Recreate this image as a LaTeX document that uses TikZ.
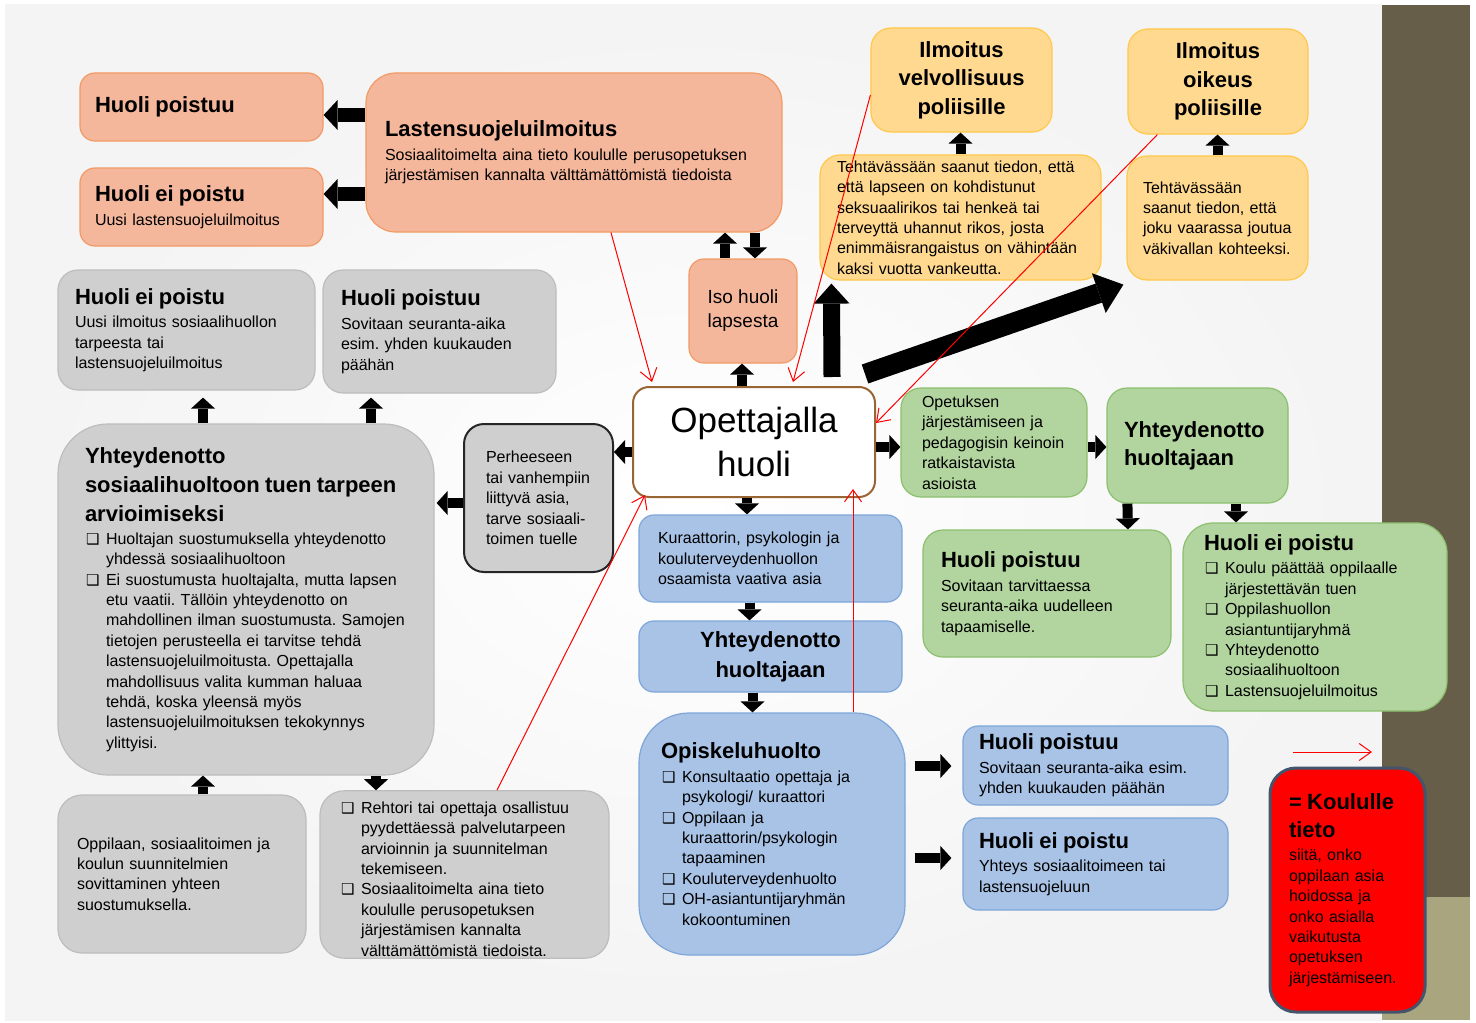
\documentclass[tikz,border=0pt]{standalone}
\usepackage{fontspec}
\setmainfont{Liberation Sans}
\newfontfamily\merkkifont{DejaVu Sans}
\usetikzlibrary{arrows.meta}
\frenchspacing
\hyphenpenalty=10000

\definecolor{oranssi}{HTML}{F5B79C}
\definecolor{oranssireuna}{HTML}{F19A65}
\definecolor{keltainen}{HTML}{FFD98F}
\definecolor{keltareuna}{HTML}{FFC84A}
\definecolor{harmaa}{HTML}{CFCFCF}
\definecolor{harmaareuna}{HTML}{BDBDBD}
\definecolor{sininen}{HTML}{A8C3E6}
\definecolor{sinireuna}{HTML}{7EA6D8}
\definecolor{vihrea}{HTML}{B2D49F}
\definecolor{vihreareuna}{HTML}{8CC06E}
\definecolor{ruskea}{HTML}{9A6535}
\definecolor{tumma}{HTML}{675E49}
\definecolor{khaki}{HTML}{A9A57F}
\definecolor{tummasini}{HTML}{44546A}

\newcommand{\teksti}{\fontsize{8}{10.2}\selectfont}
\newcommand{\isofont}{\fontsize{11}{14}\selectfont\bfseries}
\newcommand{\otsikko}[1]{{\isofont #1\par}\vspace{1.6pt}}
\newcommand{\merkki}{{\merkkifont\fontsize{7.5}{7.5}\selectfont ❑}}
\newcommand{\kohta}[1]{\par\noindent\hangindent=10.5pt\hangafter=1\makebox[10.5pt][l]{\hspace{0.5pt}\merkki}#1\par}

\begin{document}
\begin{tikzpicture}[x=0.5pt,y=-0.5pt,
  laatikko/.style={draw, rounded corners=7.5pt, inner xsep=0pt, inner ysep=1pt, align=left, font=\teksti, line width=0.6pt},
  oranssilaatikko/.style={laatikko, fill=oranssi, draw=oranssireuna},
  keltalaatikko/.style={laatikko, fill=keltainen, draw=keltareuna},
  harmaalaatikko/.style={laatikko, fill=harmaa, draw=harmaareuna},
  sinilaatikko/.style={laatikko, fill=sininen, draw=sinireuna},
  vihrealaatikko/.style={laatikko, fill=vihrea, draw=vihreareuna},
  nuoli/.style={-{Triangle[width=12pt,length=5.5pt,line width=0pt]}, line width=5pt},
  paksu/.style={-{Triangle[width=15pt,length=7pt,line width=0pt]}, line width=7pt},
  isonuoli/.style={-{Triangle[width=18pt,length=10pt,line width=0pt]}, line width=8.5pt},
  vinonuoli/.style={-{Triangle[width=21pt,length=13pt,line width=0pt]}, line width=10pt},
  punainen/.style={red, line width=0.5pt, -{Straight Barb[length=6pt,width=8.5pt]}}]

  \useasboundingbox (0,0) rectangle (1476,1022);
  % tausta
  \fill[white] (0,0) rectangle (1476,1022);
  \shade[inner color=white, outer color=gray!9] (5,5) rectangle (1382,1020);
  \fill[tumma] (1382,5) rectangle (1470,897);
  \fill[khaki] (1382,897) rectangle (1470,1020);

  % lastensuojelu (oranssi)
  \node[oranssilaatikko, minimum width=121.5pt, text width=106.5pt, minimum height=34pt] (HP1) at (201.5,107) {\isofont Huoli poistuu};
  \node[oranssilaatikko, minimum width=121.5pt, text width=106.5pt, minimum height=39pt] (HEP1) at (201.5,207) {\otsikko{Huoli ei poistu}Uusi lastensuojeluilmoitus};
  \node[oranssilaatikko, rounded corners=15pt, minimum width=208pt, text width=189pt, minimum height=79.5pt] (LSI) at (574,152.5)
    {\otsikko{Lastensuojeluilmoitus}Sosiaalitoimelta aina tieto koululle perusopetuksen\\järjestämisen kannalta välttämättömistä tiedoista};
  \node[oranssilaatikko, align=center, font=\fontsize{9.5}{12}\selectfont, minimum width=54pt, minimum height=52pt] (Iso) at (743,311) {Iso huoli\\lapsesta};

  % poliisi (keltainen)
  \node[keltalaatikko, rounded corners=10pt, align=center, font=\fontsize{11}{14.3}\selectfont\bfseries, minimum width=90.5pt, minimum height=52pt] (IV) at (961.5,80) {Ilmoitus\\velvollisuus\\poliisille};
  \node[keltalaatikko, rounded corners=10pt, align=center, font=\fontsize{11}{14.3}\selectfont\bfseries, minimum width=90pt, minimum height=52.5pt] (IO) at (1218,81.5) {Ilmoitus\\oikeus\\poliisille};
  \node[keltalaatikko, rounded corners=10pt, minimum width=140.5pt, text width=123.5pt, minimum height=62.5pt] (TV) at (960.5,217.5)
    {Tehtävässään saanut tiedon, että\\että lapseen on kohdistunut\\seksuaalirikos tai henkeä tai\\terveyttä uhannut rikos, josta\\enimmäisrangaistus on vähintään\\kaksi vuotta vankeutta.};
  \node[keltalaatikko, rounded corners=10pt, minimum width=90.5pt, text width=74.5pt, minimum height=62pt] (TO) at (1217.5,218)
    {Tehtävässään\\saanut tiedon, että\\joku vaarassa joutua\\väkivallan kohteeksi.};

  % opettaja
  \node[draw=ruskea, line width=1pt, fill=white, rounded corners=8pt, align=center, font=\fontsize{17.5}{22}\selectfont, minimum width=121pt, minimum height=55pt] (Opett) at (754,442) {Opettajalla\\huoli};

  % opetus (vihreä)
  \node[vihrealaatikko, rounded corners=10pt, minimum width=93pt, text width=72pt, minimum height=54.5pt] (OPE) at (994,442.5)
    {Opetuksen\\järjestämiseen ja\\pedagogisin keinoin\\ratkaistavista\\asioista};
  \node[vihrealaatikko, rounded corners=10pt, font=\isofont, minimum width=90.5pt, text width=73.5pt, minimum height=57.5pt] (GYH) at (1197.5,445.5) {Yhteydenotto\\huoltajaan};
  \node[vihrealaatikko, rounded corners=10pt, minimum width=124pt, text width=106pt, minimum height=63.5pt] (GHP2) at (1047,593.5)
    {\otsikko{Huoli poistuu}Sovitaan tarvittaessa\\seuranta-aika uudelleen\\tapaamiselle.};
  \node[vihrealaatikko, rounded corners=15pt, minimum width=132pt, text width=111pt, minimum height=94pt] (GHEP2) at (1315,617)
    {\otsikko{Huoli ei poistu}\kohta{Koulu päättää oppilaalle\newline järjestettävän tuen}\kohta{Oppilashuollon\newline asiantuntijaryhmä}\kohta{Yhteydenotto\newline sosiaalihuoltoon}\kohta{Lastensuojeluilmoitus}};

  % opiskeluhuolto (sininen)
  \node[sinilaatikko, minimum width=131.5pt, text width=112.5pt, minimum height=43.5pt] (KUR) at (770.5,558.5)
    {Kuraattorin, psykologin ja\\kouluterveydenhuollon\\osaamista vaativa asia};
  \node[sinilaatikko, align=center, font=\fontsize{11}{15}\selectfont\bfseries, minimum width=131.5pt, minimum height=35.5pt] (YH) at (770.5,656.5) {Yhteydenotto\\huoltajaan};
  \node[sinilaatikko, rounded corners=25pt, minimum width=133pt, text width=111pt, minimum height=121pt] (OPI) at (772,834)
    {\otsikko{Opiskeluhuolto}\kohta{Konsultaatio opettaja ja\newline psykologi/ kuraattori}\kohta{Oppilaan ja\newline kuraattorin/psykologin\newline tapaaminen}\kohta{Kouluterveydenhuolto}\kohta{OH-asiantuntijaryhmän\newline kokoontuminen}};
  \node[sinilaatikko, minimum width=132.5pt, text width=116.5pt, minimum height=39.5pt] (BHP) at (1095.5,765.5)
    {\otsikko{Huoli poistuu}Sovitaan seuranta-aika esim.\\yhden kuukauden päähän};
  \node[sinilaatikko, minimum width=132.5pt, text width=116.5pt, minimum height=46pt] (BHEP) at (1095.5,864)
    {\otsikko{Huoli ei poistu}Yhteys sosiaalitoimeen tai\\lastensuojeluun};

  % selite
  \node[laatikko, fill=red, draw=tummasini, line width=1.5pt, rounded corners=13pt, minimum width=77.5pt, text width=58.5pt, minimum height=122pt] (KT) at (1347.5,890)
    {\otsikko{= Koululle\\tieto}siitä, onko\\oppilaan asia\\hoidossa ja\\onko asialla\\vaikutusta\\opetuksen\\järjestämiseen.};

  % sosiaalihuolto (harmaa)
  \node[harmaalaatikko, rounded corners=10pt, minimum width=128.5pt, text width=111.5pt, minimum height=60pt] (GHEP) at (186.5,330)
    {\otsikko{Huoli ei poistu}Uusi ilmoitus sosiaalihuollon\\tarpeesta tai\\lastensuojeluilmoitus};
  \node[harmaalaatikko, rounded corners=10pt, minimum width=116.5pt, text width=98.5pt, minimum height=61.5pt] (GHP) at (439.5,331.5)
    {\otsikko{Huoli poistuu}Sovitaan seuranta-aika\\esim. yhden kuukauden\\päähän};
  \node[harmaalaatikko, rounded corners=25pt, minimum width=188pt, text width=166pt, minimum height=175.5pt] (YS) at (246,599.5)
    {\leftskip=2.5pt{\fontsize{11}{14.5}\selectfont\bfseries Yhteydenotto\\sosiaalihuoltoon tuen tarpeen\\arvioimiseksi\par}\vspace{1.2pt}%
     \kohta{Huoltajan suostumuksella yhteydenotto\newline yhdessä sosiaalihuoltoon}%
     \kohta{Ei suostumusta huoltajalta, mutta lapsen\newline etu vaatii. Tällöin yhteydenotto on\newline mahdollinen ilman suostumusta. Samojen\newline tietojen perusteella ei tarvitse tehdä\newline lastensuojeluilmoitusta. Opettajalla\newline mahdollisuus valita kumman haluaa\newline tehdä, koska yleensä myös\newline lastensuojeluilmoituksen tekokynnys\newline ylittyisi.}};
  \node[harmaalaatikko, draw=black!85, line width=1pt, rounded corners=10pt, minimum width=74.5pt, text width=52.5pt, minimum height=74pt] (PER) at (538.5,498)
    {Perheeseen\\tai vanhempiin\\liittyvä asia,\\tarve sosiaali-\\toimen tuelle};
  \node[harmaalaatikko, rounded corners=12pt, minimum width=124pt, text width=105pt, minimum height=79pt] (OPP) at (182,874)
    {Oppilaan, sosiaalitoimen ja\\koulun suunnitelmien\\sovittaminen yhteen\\suostumuksella.};
  \node[harmaalaatikko, rounded corners=12pt, minimum width=144.5pt, text width=124.5pt, minimum height=81.5pt] (REH) at (464.5,874.5)
    {\kohta{Rehtori tai opettaja osallistuu\newline pyydettäessä palvelutarpeen\newline arvioinnin ja suunnitelman\newline tekemiseen.}\kohta{Sosiaalitoimelta aina tieto\newline koululle perusopetuksen\newline järjestämisen kannalta\newline välttämättömistä tiedoista.}};

  % mustat nuolet
  \draw[paksu] ([shift={(0,-37.5)}]LSI.west) -- ([shift={(0,8)}]HP1.east);
  \draw[paksu] ([shift={(0,41.5)}]LSI.west) -- ([shift={(0,-13)}]HEP1.east);
  \draw[nuoli] ([shift={(-18,0)}]Iso.north) -- ([shift={(151,0)}]LSI.south);
  \draw[nuoli] ([shift={(181,0)}]LSI.south) -- ([shift={(12,0)}]Iso.north);
  \draw[nuoli] ([shift={(-12,0)}]Opett.north) -- ([shift={(-1,0)}]Iso.south);
  \draw[isonuoli] ([shift={(78,-9)}]Opett.north) -- ([shift={(12,3)}]TV.south west);
  \draw[vinonuoli] ([shift={(111,-12)}]Opett.north) -- ([shift={(-3,4)}]TO.south west);
  \draw[nuoli] (TV.north) -- (TV.north |- IV.south);
  \draw[nuoli] (TO.north) -- (TO.north |- IO.south);
  \draw[nuoli] ([shift={(0,10)}]Opett.west) -- ([shift={(0,-46)}]PER.east);
  \draw[nuoli] ([shift={(0,5)}]Opett.east) -- ([shift={(0,4.5)}]OPE.west);
  \draw[nuoli] ([shift={(-7,0)}]Opett.south) -- ([shift={(-23.5,0)}]KUR.north);
  \draw[nuoli] ([shift={(-21,0)}]KUR.south) -- ([shift={(-21,0)}]YH.north);
  \draw[nuoli] ([shift={(-18,0)}]YH.south) -- ([shift={(-19.5,0)}]OPI.north);
  \draw[nuoli] ([shift={(9,-68)}]OPI.east) -- ([shift={(-11,0.5)}]BHP.west);
  \draw[nuoli] ([shift={(9,24)}]OPI.east) -- ([shift={(-11,-6)}]BHEP.west);
  \draw[nuoli] ([shift={(0,4.5)}]OPE.east) -- ([shift={(0,1.5)}]GYH.west);
  \draw[nuoli] ([shift={(21,0)}]GYH.south west) -- ([shift={(81,0)}]GHP2.north);
  \draw[nuoli] ([shift={(38.5,0)}]GYH.south) -- ([shift={(-79,0)}]GHEP2.north);
  \draw[nuoli] ([shift={(-43,0)}]YS.north) -- ([shift={(16.5,7)}]GHEP.south);
  \draw[nuoli] ([shift={(125,0)}]YS.north) -- ([shift={(-68.5,4)}]GHP.south);
  \draw[nuoli] ([shift={(0,5)}]PER.west) -- ([shift={(2,-96.5)}]YS.east);
  \draw[nuoli] ([shift={(21,0)}]OPP.north) -- ([shift={(-43,0)}]YS.south);
  \draw[nuoli] ([shift={(130,0)}]YS.south) -- ([shift={(-88.5,0)}]REH.north);

  % punaiset nuolet
  \draw[punainen] ([shift={(37,0)}]LSI.south) -- ([shift={(-102,-4)}]Opett.north);
  \draw[punainen] ([shift={(0,15)}]IV.west) -- ([shift={(39,-4)}]Opett.north);
  \draw[punainen] ([shift={(30,0)}]IO.south west) -- ([shift={(0,-19)}]Opett.east);
  \draw[punainen] ([shift={(32.5,0)}]REH.north) -- ([shift={(-109,-3)}]Opett.south);
  \draw[punainen] ([shift={(81,0)}]OPI.north) -- ([shift={(99,-9)}]Opett.south);
  \coordinate (selite1) at (1293,752);
  \coordinate (selite2) at (1372,752);
  \draw[punainen] (selite1) -- (selite2);
\end{tikzpicture}
\end{document}
